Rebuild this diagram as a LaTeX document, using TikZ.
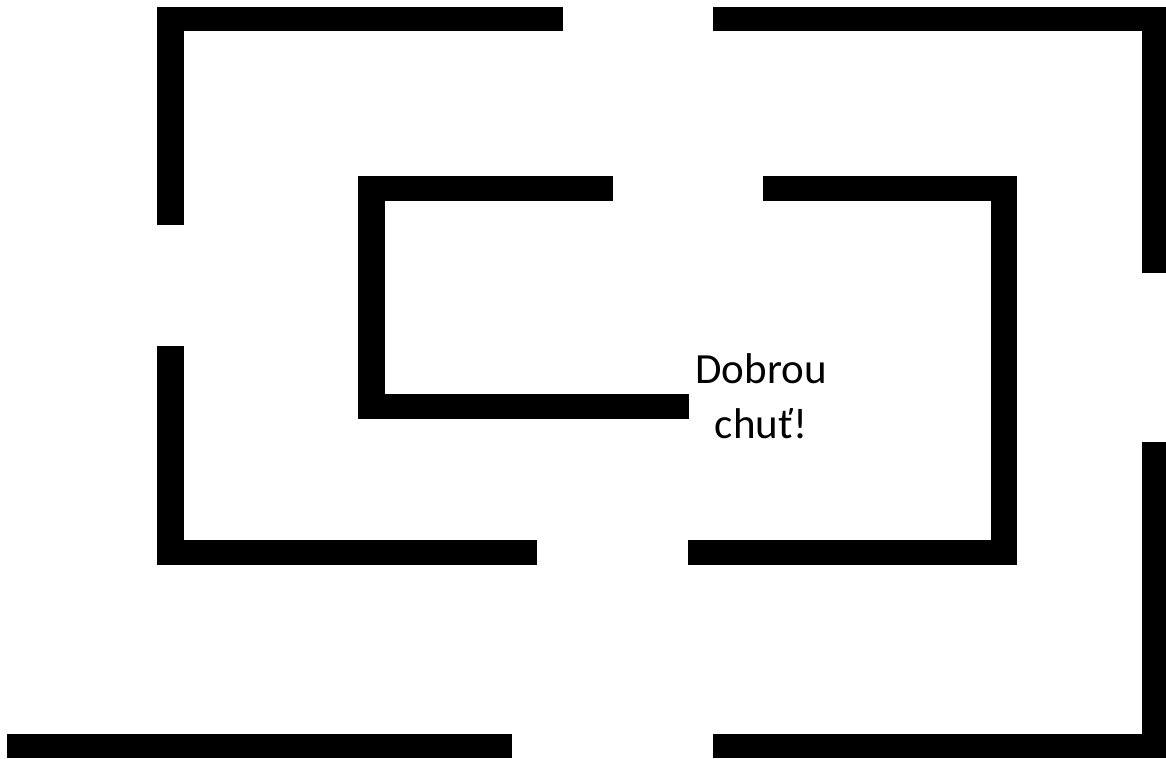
\documentclass[tikz,border=0pt]{standalone}
\usepackage{fontspec}
\setmainfont{Carlito}
\usetikzlibrary{positioning}
\tikzset{
    wall/.style={fill=black},
    label/.style={align=center, inner sep=0pt, font=\fontsize{30.6}{39.1}\selectfont}
}

\begin{document}
\begin{tikzpicture}[x=0.025cm, y=-0.025cm]
        \useasboundingbox (0,0) rectangle (1166,758);

        % outer top left
        \fill [wall] (157,7) rectangle (563,31);
        \fill [wall] (157,7) rectangle (184,225);
        % outer top right
        \fill [wall] (713,7) rectangle (1166,31);
        \fill [wall] (1142,7) rectangle (1166,273);
        % left lower
        \fill [wall] (157,346) rectangle (184,565);
        \fill [wall] (157,540) rectangle (537,565);
        % inner left
        \fill [wall] (358,176) rectangle (613,201);
        \fill [wall] (358,176) rectangle (385,419);
        \fill [wall] (358,394) rectangle (689,419);
        % inner right
        \fill [wall] (763,176) rectangle (1017,201);
        \fill [wall] (991,176) rectangle (1017,565);
        \fill [wall] (688,540) rectangle (1017,565);
        % bottom
        \fill [wall] (7,734) rectangle (512,758);
        \fill [wall] (1142,442) rectangle (1166,758);
        \fill [wall] (713,734) rectangle (1166,758);

        \node (greeting) [label] at (761,396) {Dobrou\\chuť!};
    \end{tikzpicture}
\end{document}
